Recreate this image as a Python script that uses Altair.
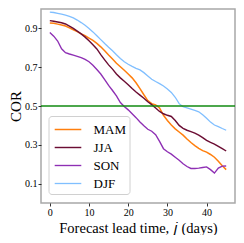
import altair as alt
import pandas as pd

lead = list(range(46))

mam = [0.928, 0.926, 0.922, 0.918, 0.912, 0.903, 0.893, 0.883, 0.872, 0.862,
       0.850, 0.838, 0.823, 0.805, 0.785, 0.763, 0.742, 0.720, 0.702, 0.684,
       0.665, 0.645, 0.620, 0.590, 0.558, 0.528, 0.512, 0.506, 0.490, 0.452,
       0.425, 0.402, 0.382, 0.366, 0.350, 0.330, 0.312, 0.296, 0.282, 0.270,
       0.262, 0.250, 0.236, 0.215, 0.192, 0.172]

jja = [0.940, 0.937, 0.933, 0.929, 0.923, 0.912, 0.900, 0.886, 0.872, 0.855,
       0.836, 0.816, 0.794, 0.765, 0.738, 0.712, 0.690, 0.665, 0.645, 0.628,
       0.610, 0.590, 0.572, 0.556, 0.540, 0.522, 0.507, 0.490, 0.472, 0.460,
       0.452, 0.446, 0.425, 0.400, 0.385, 0.375, 0.368, 0.360, 0.350, 0.337,
       0.323, 0.312, 0.304, 0.292, 0.280, 0.268]

son = [0.879, 0.860, 0.835, 0.795, 0.775, 0.768, 0.762, 0.756, 0.749, 0.740,
       0.728, 0.710, 0.688, 0.665, 0.636, 0.606, 0.580, 0.552, 0.518, 0.497,
       0.480, 0.460, 0.440, 0.418, 0.398, 0.380, 0.370, 0.352, 0.318, 0.280,
       0.264, 0.252, 0.236, 0.220, 0.202, 0.188, 0.178, 0.178, 0.180, 0.183,
       0.186, 0.172, 0.154, 0.180, 0.190, 0.191]

djf = [0.984, 0.982, 0.978, 0.973, 0.968, 0.962, 0.954, 0.943, 0.930, 0.916,
       0.900, 0.882, 0.862, 0.842, 0.822, 0.803, 0.785, 0.764, 0.745, 0.728,
       0.715, 0.704, 0.694, 0.686, 0.672, 0.655, 0.638, 0.626, 0.615, 0.603,
       0.588, 0.570, 0.545, 0.512, 0.496, 0.490, 0.484, 0.477, 0.470, 0.455,
       0.437, 0.417, 0.402, 0.394, 0.384, 0.375]

seasons = ["MAM", "JJA", "SON", "DJF"]
colors = ["#ff7f0e", "#6b0d33", "#8e2fb4", "#80bfff"]
widths = [1.5, 1.3, 1.3, 1.0]
threshold = [0.5]

x_ticks = [0, 10, 20, 30, 40]
y_ticks = [0.1, 0.3, 0.5, 0.7, 0.9]

rows = []
for name, vals in zip(seasons, [mam, jja, son, djf]):
    for j, v in zip(lead, vals):
        rows.append({"lead": j, "cor": v, "season": name})
df = pd.DataFrame(rows)
thr_df = pd.DataFrame({"cor": threshold})

W, H = 194, 194
FONT = "Liberation Serif"

x_enc = alt.X(
    "lead:Q",
    scale=alt.Scale(domain=[-2.25, 47.25], nice=False, zero=False),
    axis=alt.Axis(values=x_ticks, title="Forecast lead time, 𝑗 (days)",
                  tickSize=3, labelPadding=1, titleY=29,
                  titleBaseline="alphabetic", titleFontSize=14.5,
                  labelFont=FONT, titleFont=FONT, labelFontSize=10),
)
y_enc = alt.Y(
    "cor:Q",
    scale=alt.Scale(domain=[0, 1], nice=False, zero=False),
    axis=alt.Axis(values=y_ticks, format=".1f", title="COR",
                  tickSize=3, labelPadding=1, titleX=-25.5, titleY=H / 2,
                  titleAlign="center", titleBaseline="middle",
                  titleFontSize=15, labelFont=FONT, titleFont=FONT,
                  labelFontSize=10),
)

lines = alt.Chart(df).mark_line().encode(
    x=x_enc,
    y=y_enc,
    color=alt.Color(
        "season:N",
        scale=alt.Scale(domain=seasons, range=colors),
        legend=alt.Legend(
            title=None, orient="none", legendX=7.5, legendY=107,
            symbolType="M-1.4,0H1.4", symbolSize=361, symbolStrokeWidth=1.5,
            symbolOffset=6, labelOffset=15, rowPadding=0, padding=3,
            labelFont=FONT, labelFontSize=13, labelColor="black",
            fillColor="white", strokeColor="#d0d0d0", cornerRadius=3,
        ),
    ),
    strokeWidth=alt.StrokeWidth(
        "season:N", scale=alt.Scale(domain=seasons, range=widths), legend=None
    ),
)

rule = alt.Chart(thr_df).mark_rule(color="#108a10", strokeWidth=1.6).encode(
    y=alt.Y("cor:Q")
)

chart = (
    alt.layer(lines, rule)
    .properties(
        width=W, height=H,
        autosize=alt.AutoSizeParams(type="none"),
        padding={"left": 33, "top": 1, "right": 1, "bottom": 32},
    )
    .configure_view(stroke="#a8a8a8", strokeWidth=1.5)
    .configure_axis(
        grid=False, domain=False, labelFont=FONT, labelFontSize=10,
        labelColor="black", tickColor="black", tickWidth=0.8,
        titleFont=FONT, titleFontWeight="normal", titleColor="black",
    )
)

chart.save("out.html", embed_options={"renderer": "svg", "actions": False})
